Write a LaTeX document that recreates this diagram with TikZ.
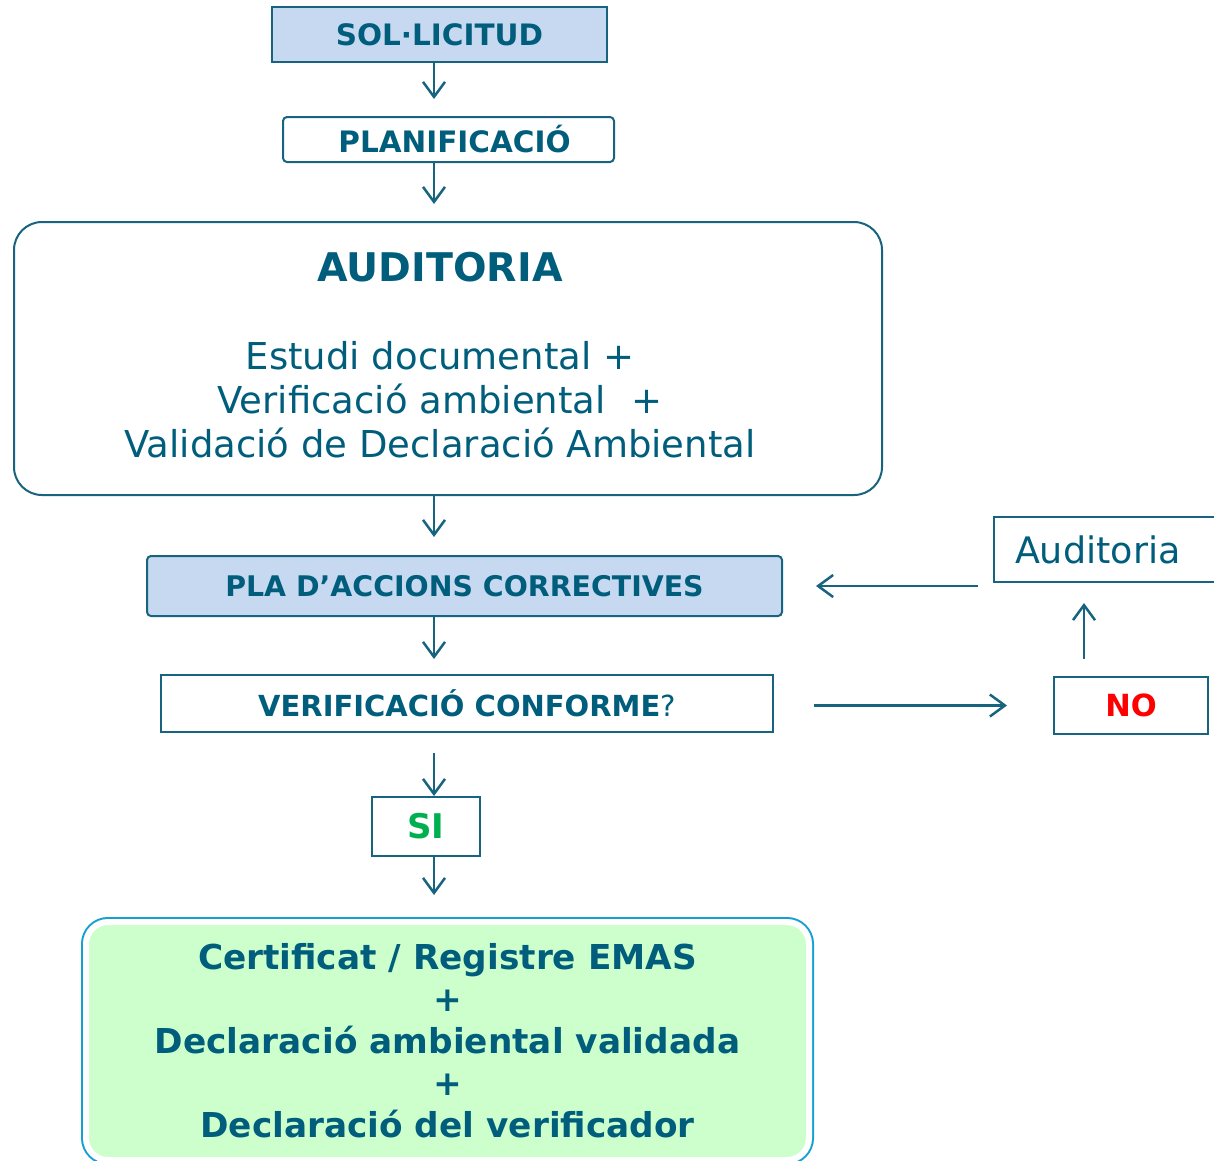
\documentclass[tikz,border=0pt]{standalone}
\usepackage{fontspec}
\setmainfont{DejaVu Sans}
\usetikzlibrary{arrows.meta,positioning}
\definecolor{tekst}{RGB}{0,94,124}
\definecolor{linje}{RGB}{23,99,128}
\definecolor{lysblaa}{RGB}{198,217,241}
\definecolor{lysgroen}{RGB}{204,255,204}
\definecolor{kant}{RGB}{20,160,210}
\definecolor{sigroen}{RGB}{0,176,80}
\tikzset{
    >={Straight Barb[length=15pt,width=22pt]},
    boks/.style={
           draw=linje, line width=2pt,
           text=tekst,
           inner sep=0pt,
           align=center},
    lille/.style={
           font=\fontsize{29.5pt}{34pt}\selectfont\bfseries},
    stor/.style={
           font=\fontsize{34.3pt}{42pt}\selectfont\bfseries},
    pil/.style={
           ->,
           draw=linje,
           line width=2.5pt}
}

\begin{document}
\begin{tikzpicture}[x=1pt,y=-1pt]
          \useasboundingbox (0,0) rectangle (1214,1160);
          \clip (0,0) rectangle (1214,1160);
          \coordinate (akse) at (434,0);
          \coordinate (opakse) at (1084,0);
          \node[boks, lille, fill=lysblaa, minimum width=335pt, minimum height=55pt](soll) at (439.5,34.5) {SOL·LICITUD};
          \node[boks, lille, rounded corners=4pt, minimum width=331pt, minimum height=45pt](plan) at (448.5,139.5) {\hspace{12pt}PLANIFICACIÓ};
          \node[boks, rounded corners=28pt, minimum width=868pt, minimum height=273pt](audit) at (448,358.5) {};
          \node[text=tekst, align=center, inner sep=0pt,
                font=\fontsize{37pt}{44pt}\selectfont](audittekst) at (440,355)
                {{\fontsize{39.5pt}{44pt}\selectfont\bfseries AUDITORIA}\\[44pt]
                 Estudi documental +\\
                 Verificació ambiental\hspace{14pt} +\\
                 Validació de Declaració Ambiental};
          \node[boks, font=\fontsize{28.4pt}{34pt}\selectfont\bfseries, fill=lysblaa, rounded corners=4pt, minimum width=635pt, minimum height=60pt](pla) at (464.5,586) {PLA D’ACCIONS CORRECTIVES};
          \node[boks, font=\fontsize{29pt}{34pt}\selectfont\bfseries, minimum width=612pt, minimum height=57pt](verif) at (467,703.5) {VERIFICACIÓ CONFORME{\mdseries ?}};
          \node[boks, font=\fontsize{34pt}{40pt}\selectfont\bfseries, text=sigroen, minimum width=108pt, minimum height=59pt](si) at (426,826.5) {SI};
          \node[boks, stor, fill=lysgroen, draw=white, line width=6pt, rounded corners=22pt,
                preaction={draw=kant, line width=10pt},
                minimum width=723pt, minimum height=238pt](result) at (447.5,1041)
                {Certificat / Registre EMAS\\ +\\ Declaració ambiental validada\\ +\\ Declaració del verificador};
          \node[boks, font=\fontsize{30.5pt}{36pt}\selectfont\bfseries, text=red, minimum width=154pt, minimum height=57pt](no) at (1131,705.5) {NO};
          \node[boks, anchor=west, align=left, text width=220pt, inner xsep=21pt, minimum height=65pt,
                font=\fontsize{36.5pt}{44pt}\selectfont](aud2) at (993,549.5) {Auditoria};
          \draw[pil, shorten >=17pt] (soll.south -| akse) -- (plan.north -| akse);
          \draw[pil, shorten >=17pt] (plan.south -| akse) -- (audit.north -| akse);
          \draw[pil, shorten >=18pt] (audit.south -| akse) -- (pla.north -| akse);
          \draw[pil, shorten >=15pt] (pla.south -| akse) -- (verif.north -| akse);
          \draw[pil, shorten <=20pt] (verif.south -| akse) -- (si.north -| akse);
          \draw[pil, shorten >=24pt] (si.south -| akse) -- (result.north -| akse);
          \draw[pil, shorten <=40pt, shorten >=46pt] (verif.east |- no) -- (no.west);
          \draw[pil, shorten <=17pt, shorten >=20pt] (no.north -| opakse) -- (aud2.south -| opakse);
          \draw[pil, shorten <=15pt, shorten >=33pt] (aud2.west |- pla) -- (pla.east);
\end{tikzpicture}
\end{document}
